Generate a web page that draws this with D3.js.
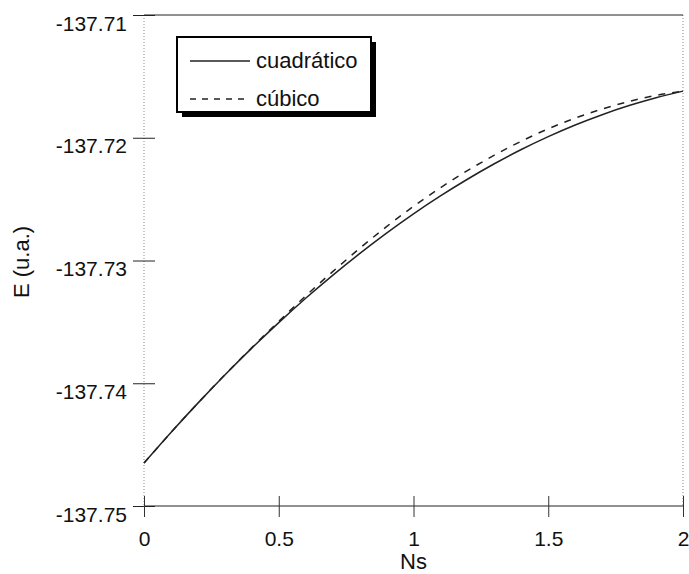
<!DOCTYPE html>
<html>
<head>
<meta charset="utf-8">
<script src="https://cdn.jsdelivr.net/npm/d3@7"></script>
<style>
  body { margin: 0; background: #fff; }
  text { font-family: "Liberation Sans", Arial, sans-serif; fill: #111; }
</style>
</head>
<body>
<div id="chart-area"></div>
<script>
// values
var ns = [0, 0.1, 0.2, 0.3, 0.4, 0.5, 0.6, 0.7, 0.8, 0.9, 1.0,
          1.1, 1.2, 1.3, 1.4, 1.5, 1.6, 1.7, 1.8, 1.9, 2.0];
var cuadratico = [-137.74650, -137.74401, -137.74162, -137.73933, -137.73714, -137.73506,
                  -137.73308, -137.73121, -137.72944, -137.72777, -137.72620,
                  -137.72474, -137.72338, -137.72212, -137.72096, -137.71991,
                  -137.71896, -137.71812, -137.71738, -137.71674, -137.71620];
var cubico = [-137.74650, -137.74401, -137.74162, -137.73931, -137.73710, -137.73496,
              -137.73288, -137.73091, -137.72902, -137.72724, -137.72559,
              -137.72407, -137.72268, -137.72142, -137.72028, -137.71927,
              -137.71840, -137.71766, -137.71704, -137.71655, -137.71620];
var xTicks = [0, 0.5, 1, 1.5, 2];
var yTicks = [-137.75, -137.74, -137.73, -137.72, -137.71];
var yTickLabels = ["-137.75", "-137.74", "-137.73", "-137.72", "-137.71"];
var seriesNames = ["cuadrático", "cúbico"];

var mwidth = 689;
var mheight = 574;
var margin = {top: 15, right: 6, bottom: 68, left: 144};
var w = mwidth - margin.left - margin.right;
var h = mheight - margin.top - margin.bottom;

var svg = d3.select("#chart-area").append("svg")
  .attr("width", mwidth)
  .attr("height", mheight);

var g = svg.append("g")
  .attr("transform", "translate(" + margin.left + ", " + margin.top + ")");

var x = d3.scaleLinear().domain([0, 2]).range([0, w]);
var y = d3.scaleLinear().domain([-137.75, -137.71]).range([h, 0]);

// frame: dotted sides, solid top and bottom
g.append("line").attr("x1", 0).attr("x2", 0).attr("y1", 0).attr("y2", h)
  .attr("stroke", "#888").attr("stroke-width", 1).attr("stroke-dasharray", "1,2");
g.append("line").attr("x1", w).attr("x2", w).attr("y1", 0).attr("y2", h)
  .attr("stroke", "#888").attr("stroke-width", 1).attr("stroke-dasharray", "1,2");
g.append("line").attr("x1", 0).attr("x2", w).attr("y1", 0).attr("y2", 0)
  .attr("stroke", "#222").attr("stroke-width", 1.2);
g.append("line").attr("x1", 0).attr("x2", w).attr("y1", h).attr("y2", h)
  .attr("stroke", "#222").attr("stroke-width", 1.2);

// y axis
var yAxisGroup = g.append("g").attr("class", "y-axis")
  .call(d3.axisLeft(y).tickValues(yTicks).tickSizeOuter(0).tickSize(11)
    .tickFormat(function(d, i) { return yTickLabels[i]; }));
yAxisGroup.select(".domain").remove();
yAxisGroup.selectAll(".tick line").attr("x2", 11).attr("x1", -11)
  .attr("stroke", "#222").attr("stroke-width", 1);
yAxisGroup.selectAll(".tick text")
  .attr("x", -17).attr("dy", "15px")
  .attr("font-size", "21px").style("font-family", "'Liberation Sans', Arial, sans-serif")
  .attr("fill", "#111");

// x axis
var xAxisGroup = g.append("g").attr("class", "x axis")
  .attr("transform", "translate(0, " + h + ")")
  .call(d3.axisBottom(x).tickValues(xTicks).tickSizeOuter(0).tickSize(11)
    .tickFormat(function(d) { return d3.format("")(d); }));
xAxisGroup.select(".domain").remove();
xAxisGroup.selectAll(".tick line").attr("y1", -10).attr("y2", 11)
  .attr("stroke", "#333").attr("stroke-width", 1);
xAxisGroup.selectAll(".tick text")
  .attr("y", 25).attr("dy", "0.71em")
  .attr("font-size", "21px").style("font-family", "'Liberation Sans', Arial, sans-serif")
  .attr("fill", "#111");

// axis labels
g.append("text")
  .attr("x", w / 2)
  .attr("y", h + 63)
  .attr("font-size", "22px")
  .attr("text-anchor", "middle")
  .text("Ns");

g.append("text")
  .attr("transform", "rotate(-90)")
  .attr("x", -(262 - margin.top))
  .attr("y", 29 - margin.left)
  .attr("font-size", "22px")
  .attr("text-anchor", "middle")
  .text("E (u.a.)");

// curves
var line = d3.line()
  .x(function(d) { return x(d[0]); })
  .y(function(d) { return y(d[1]); })
  .curve(d3.curveMonotoneX);

g.append("path")
  .datum(ns.map(function(n, i) { return [n, cuadratico[i]]; }))
  .attr("fill", "none")
  .attr("stroke", "#222")
  .attr("stroke-width", 1.5)
  .attr("d", line);

g.append("path")
  .datum(ns.map(function(n, i) { return [n, cubico[i]]; }))
  .attr("fill", "none")
  .attr("stroke", "#222")
  .attr("stroke-width", 1.5)
  .attr("stroke-dasharray", "7,7")
  .attr("d", line);

// legend
var legend = svg.append("g").attr("transform", "translate(177, 37)");
legend.append("rect").attr("x", 5).attr("y", 5).attr("width", 194).attr("height", 75)
  .attr("fill", "#000");
legend.append("rect").attr("x", 0).attr("y", 0).attr("width", 194).attr("height", 75)
  .attr("fill", "#fff").attr("stroke", "#000").attr("stroke-width", 2);

var dashes = [null, "6,6"];
seriesNames.forEach(function(name, i) {
  var ly = 24 + i * 38;
  legend.append("line")
    .attr("x1", 13).attr("x2", 73).attr("y1", ly).attr("y2", ly)
    .attr("stroke", "#222").attr("stroke-width", 1.5)
    .attr("stroke-dasharray", dashes[i]);
  legend.append("text")
    .attr("x", 79).attr("y", ly + 7)
    .attr("font-size", "22px")
    .text(name);
});
</script>
</body>
</html>
